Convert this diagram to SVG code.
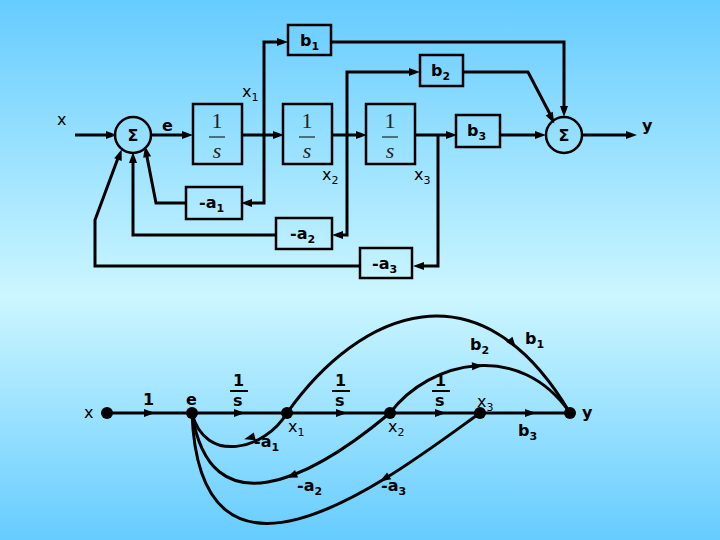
<svg xmlns="http://www.w3.org/2000/svg" width="720" height="540" viewBox="0 0 720 540">
<defs>
<linearGradient id="bg" x1="0" y1="0" x2="0" y2="1">
<stop offset="0" stop-color="#66ccff"/><stop offset="0.55" stop-color="#ccf6ff"/><stop offset="1" stop-color="#66ccff"/>
</linearGradient>
<path id="tri" d="M-6,-4 L5,0 L-6,4 z" fill="#000"/>
</defs>
<style>
.l{fill:none;stroke:#000;stroke-width:3}
.bx{fill:none;stroke:#000;stroke-width:2.5}
.t{font-family:"DejaVu Sans",Verdana,sans-serif;font-size:16px;font-weight:bold;fill:#000}
.n{font-weight:normal}
.s{font-size:11px}
.f{font-family:"Liberation Serif",serif;font-size:22px;fill:#222}
</style>
<rect width="720" height="540" fill="url(#bg)"/>
<g id="connectors">
<path class="l" d="M75,135 L110,135"/><use href="#tri" transform="translate(112,135)"/>
<path class="l" d="M151,135 L187,135"/><use href="#tri" transform="translate(188,135)"/>
<path class="l" d="M242,135 L278,135"/><use href="#tri" transform="translate(279,135)"/>
<path class="l" d="M332,135 L361,135"/><use href="#tri" transform="translate(362,135)"/>
<path class="l" d="M415,135 L451,135"/><use href="#tri" transform="translate(452,135)"/>
<path class="l" d="M500,135 L540,135"/><use href="#tri" transform="translate(541,135)"/>
<path class="l" d="M582,135 L630,135"/><use href="#tri" transform="translate(632,135)"/>
<path class="l" d="M264,135 L264,42 L282,42"/><use href="#tri" transform="translate(283,42)"/>
<path class="l" d="M264,135 L264,203 L248,203"/><use href="#tri" transform="translate(246,203) rotate(180)"/>
<path class="l" d="M186,203 L156,203 L147,157"/><use href="#tri" transform="translate(146,151) rotate(-101)"/>
<path class="l" d="M347,135 L347,72 L414,72"/><use href="#tri" transform="translate(415,72)"/>
<path class="l" d="M347,135 L347,235 L338,235"/><use href="#tri" transform="translate(337,235) rotate(180)"/>
<path class="l" d="M276,235 L133,235 L133,160"/><use href="#tri" transform="translate(133,157) rotate(-90)"/>
<path class="l" d="M438,135 L438,266 L419,266"/><use href="#tri" transform="translate(418,266) rotate(180)"/>
<path class="l" d="M360,266 L95,266 L95,220 L118,158"/><use href="#tri" transform="translate(120,154) rotate(-70)"/>
<path class="l" d="M331,42 L564,42 L564,111"/><use href="#tri" transform="translate(564,112) rotate(90)"/>
<path class="l" d="M463,72 L528,72 L551,116"/><use href="#tri" transform="translate(552,119) rotate(62)"/>

<path class="l" d="M107,413 L570,413"/>
<use href="#tri" transform="translate(150,413)"/>
<use href="#tri" transform="translate(240,413)"/>
<use href="#tri" transform="translate(342,413)"/>
<use href="#tri" transform="translate(441,413)"/>
<use href="#tri" transform="translate(531,413)"/>
<path class="l" d="M287,413 C360,310 480,260 570,413"/>
<use href="#tri" transform="translate(513,344) rotate(52)"/>
<path class="l" d="M390,413 C430,360 520,340 570,413"/>
<use href="#tri" transform="translate(478,366) rotate(-3)"/>
<path class="l" d="M287,413 C265,450 205,465 192,413"/>
<use href="#tri" transform="translate(249,438) rotate(165)"/>
<path class="l" d="M390,413 C310,480 210,530 192,413"/>
<use href="#tri" transform="translate(291,476) rotate(158)"/>
<path class="l" d="M480,413 C400,470 200,630 192,413"/>
<use href="#tri" transform="translate(384,479) rotate(149)"/>
</g>
<g id="sum1"><circle cx="133" cy="135" r="18" class="bx"/><text class="t" x="133" y="141" text-anchor="middle" font-size="15">Σ</text></g>
<g id="sum2"><circle cx="564" cy="135" r="18" class="bx"/><text class="t" x="564" y="141" text-anchor="middle" font-size="15">Σ</text></g>
<g id="int1"><rect x="193" y="104" width="49" height="60" class="bx"/><text class="f" x="217" y="128" text-anchor="middle">1</text><line x1="209" y1="137" x2="225" y2="137" stroke="#000" stroke-width="1"/><text class="f" x="217" y="158" text-anchor="middle" font-style="italic">s</text></g>
<g id="int2"><rect x="283" y="104" width="49" height="60" class="bx"/><text class="f" x="307" y="128" text-anchor="middle">1</text><line x1="299" y1="137" x2="315" y2="137" stroke="#000" stroke-width="1"/><text class="f" x="307" y="158" text-anchor="middle" font-style="italic">s</text></g>
<g id="int3"><rect x="366" y="104" width="49" height="60" class="bx"/><text class="f" x="390" y="128" text-anchor="middle">1</text><line x1="382" y1="137" x2="398" y2="137" stroke="#000" stroke-width="1"/><text class="f" x="390" y="158" text-anchor="middle" font-style="italic">s</text></g>
<g id="b1"><rect x="288" y="25" width="43" height="30" class="bx"/><text class="t" x="300" y="46">b<tspan class="s" dy="4">1</tspan></text></g>
<g id="b2"><rect x="420" y="55" width="43" height="31" class="bx"/><text class="t" x="431" y="76">b<tspan class="s" dy="4">2</tspan></text></g>
<g id="b3"><rect x="456" y="115" width="44" height="32" class="bx"/><text class="t" x="467" y="136">b<tspan class="s" dy="4">3</tspan></text></g>
<g id="na1"><rect x="186" y="187" width="56" height="32" class="bx"/><text class="t" x="199" y="208">-a<tspan class="s" dy="4">1</tspan></text></g>
<g id="na2"><rect x="276" y="218" width="56" height="31" class="bx"/><text class="t" x="290" y="239">-a<tspan class="s" dy="4">2</tspan></text></g>
<g id="na3"><rect x="360" y="248" width="52" height="30" class="bx"/><text class="t" x="372" y="269">-a<tspan class="s" dy="4">3</tspan></text></g>
<g id="labels-top">
<text class="t n" x="57" y="125">x</text>
<text class="t" x="162" y="131">e</text>
<text class="t" x="642" y="131">y</text>
<text class="t n" x="242" y="97">x<tspan class="s" dy="4">1</tspan></text>
<text class="t n" x="322" y="180">x<tspan class="s" dy="4">2</tspan></text>
<text class="t n" x="414" y="180">x<tspan class="s" dy="4">3</tspan></text>
</g>
<g id="sfg-nodes" fill="#000">
<circle cx="107" cy="413" r="6"/><circle cx="192" cy="413" r="6"/><circle cx="287" cy="413" r="6"/>
<circle cx="390" cy="413" r="6"/><circle cx="480" cy="413" r="6"/><circle cx="570" cy="413" r="6"/>
</g>
<g id="labels-sfg">
<text class="t n" x="84" y="418">x</text>
<text class="t" x="143" y="405">1</text>
<text class="t" x="186" y="405">e</text>
<text class="t" x="582" y="418">y</text>
<text class="t" x="233" y="386">1</text><line x1="230" y1="391" x2="248" y2="391" stroke="#000" stroke-width="2"/><text class="t" x="233" y="406">s</text>
<text class="t" x="335" y="386">1</text><line x1="332" y1="391" x2="350" y2="391" stroke="#000" stroke-width="2"/><text class="t" x="335" y="406">s</text>
<text class="t" x="435" y="386">1</text><line x1="432" y1="391" x2="450" y2="391" stroke="#000" stroke-width="2"/><text class="t" x="435" y="406">s</text>
<text class="t n" x="288" y="432">x<tspan class="s" dy="4">1</tspan></text>
<text class="t n" x="388" y="432">x<tspan class="s" dy="4">2</tspan></text>
<text class="t n" x="477" y="407">x<tspan class="s" dy="4">3</tspan></text>
<text class="t" x="518" y="436">b<tspan class="s" dy="4">3</tspan></text>
<text class="t" x="470" y="350">b<tspan class="s" dy="4">2</tspan></text>
<text class="t" x="525" y="344">b<tspan class="s" dy="4">1</tspan></text>
<text class="t" x="254" y="447">-a<tspan class="s" dy="4">1</tspan></text>
<text class="t" x="297" y="491">-a<tspan class="s" dy="4">2</tspan></text>
<text class="t" x="381" y="491">-a<tspan class="s" dy="4">3</tspan></text>
</g>
</svg>
